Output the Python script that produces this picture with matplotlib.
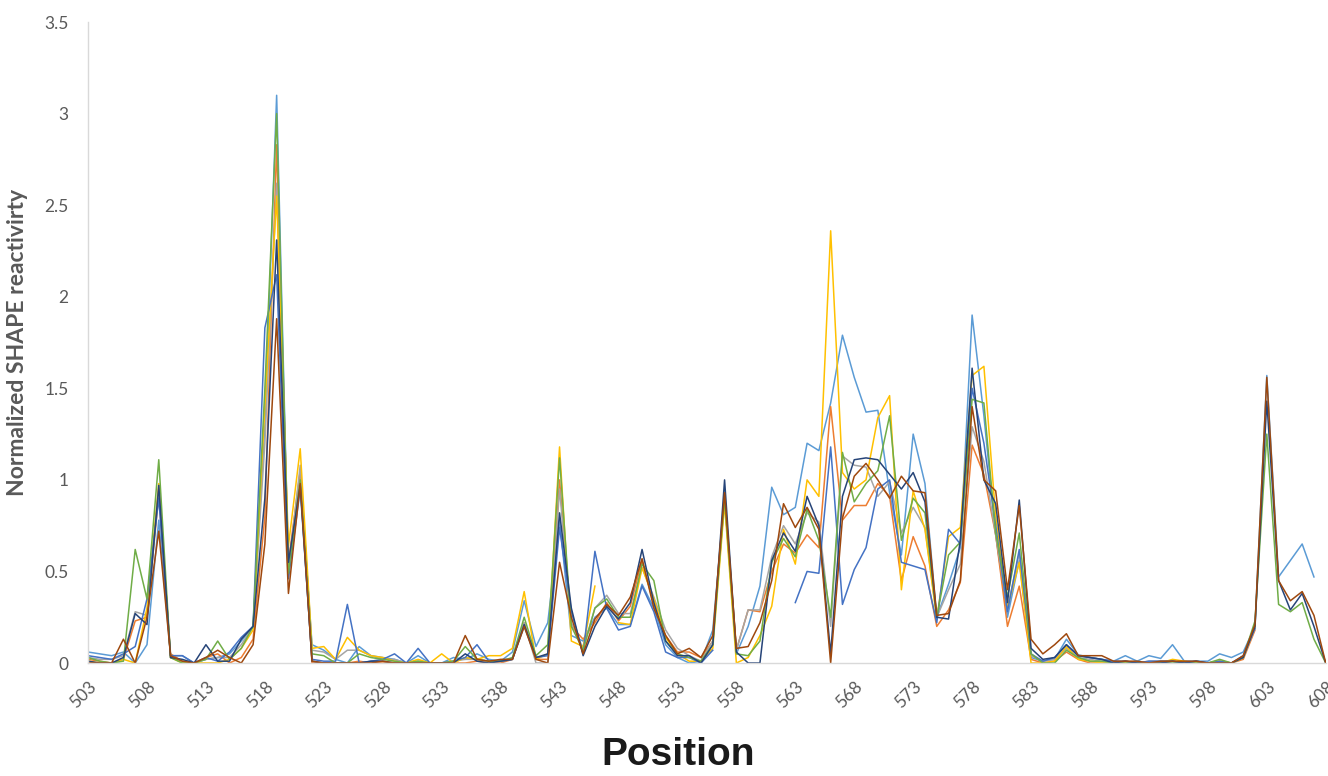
import numpy as np
import matplotlib
matplotlib.use("Agg")
import matplotlib.pyplot as plt

nan = np.nan

# Nucleotide positions
positions = np.arange(503, 609)

# Normalized SHAPE reactivity, one list per replicate (positions 503..608)
lightblue = [0.06, 0.05, 0.04, 0.06, 0.0, 0.1, 0.78, 0.04, 0.04, 0.0,
             0.02, 0.03, 0.05, 0.12, 0.2, 1.3, 3.1, 0.52, 1.03, 0.1,
             0.07, 0.02, 0.0, 0.09, 0.04, 0.03, 0.02, 0.0, 0.04, 0.0,
             0.0, 0.03, 0.02, 0.05, 0.02, 0.01, 0.06, 0.34, 0.09, 0.22,
             0.78, 0.15, 0.12, 0.25, 0.3, 0.21, 0.21, 0.43, 0.3, 0.1,
             0.03, 0.0, 0.01, 0.18, 0.9, 0.05, 0.2, 0.42, 0.96, 0.81,
             0.85, 1.2, 1.16, 1.42, 1.79, 1.56, 1.37, 1.38, 0.93, 0.59,
             1.25, 0.98, 0.25, 0.43, 0.63, 1.9, 1.35, 0.7, 0.25, 0.56,
             0.03, 0.01, 0.02, 0.13, 0.045, 0.03, 0.02, 0.01, 0.04, 0.01,
             0.04, 0.025, 0.1, 0.01, 0.01, 0.01, 0.05, 0.03, 0.06, 0.2,
             1.57, 0.47, 0.56, 0.65, 0.47, nan]
orange = [0.02, 0.01, 0.0, 0.02, 0.23, 0.25, 0.92, 0.05, 0.01, 0.0,
          0.03, 0.05, 0.0, 0.03, 0.13, 0.8, 2.83, 0.55, 1.05, 0.0,
          0.0, 0.0, 0.0, 0.01, 0.0, 0.0, 0.0, 0.0, 0.0, 0.0,
          0.0, 0.0, 0.0, 0.01, 0.0, 0.0, 0.02, 0.22, 0.02, 0.02,
          1.0, 0.2, 0.13, 0.22, 0.33, 0.23, 0.31, 0.56, 0.32, 0.15,
          0.06, 0.06, 0.03, 0.12, 0.92, 0.07, 0.29, 0.28, 0.5, 0.65,
          0.6, 0.7, 0.63, 1.4, 0.78, 0.86, 0.86, 0.98, 0.91, 0.45,
          0.69, 0.53, 0.2, 0.29, 0.44, 1.19, 1.03, 0.7, 0.2, 0.42,
          0.02, 0.0, 0.01, 0.06, 0.02, 0.0, 0.0, 0.0, 0.01, 0.0,
          0.0, 0.0, 0.01, 0.0, 0.0, 0.0, 0.0, 0.0, 0.02, 0.18,
          nan, nan, nan, nan, nan, nan]
gray = [0.03, 0.02, 0.02, 0.04, 0.28, 0.26, 0.95, 0.03, 0.01, 0.0,
        0.02, 0.03, 0.03, 0.1, 0.2, 1.2, 2.62, 0.5, 1.08, 0.07,
        0.06, 0.02, 0.07, 0.07, 0.04, 0.02, 0.02, 0.0, 0.01, 0.0,
        0.0, 0.01, 0.02, 0.02, 0.01, 0.01, 0.02, 0.22, 0.0, 0.0,
        0.95, 0.22, 0.08, 0.3, 0.37, 0.27, 0.27, 0.52, 0.36, 0.18,
        0.08, 0.04, 0.01, 0.12, 0.9, 0.07, 0.29, 0.29, 0.58, 0.75,
        0.65, 0.82, 0.77, 0.2, 1.13, 1.08, 1.07, 0.91, 0.99, 0.71,
        0.85, 0.74, 0.25, 0.4, 0.54, 1.29, 1.1, 0.7, 0.3, 0.6,
        0.04, 0.01, 0.02, 0.08, 0.03, 0.02, 0.01, 0.0, 0.01, 0.0,
        0.01, 0.01, 0.01, 0.0, 0.0, 0.0, 0.01, 0.0, 0.03, 0.19,
        nan, nan, nan, nan, nan, nan]
yellow = [0.01, 0.0, 0.0, 0.02, 0.0, 0.3, 0.98, 0.03, 0.0, 0.0,
          0.0, 0.0, 0.02, 0.08, 0.18, 1.4, 2.55, 0.64, 1.17, 0.08,
          0.09, 0.02, 0.14, 0.07, 0.04, 0.03, 0.01, 0.0, 0.02, 0.0,
          0.05, 0.0, 0.03, 0.02, 0.04, 0.04, 0.08, 0.39, 0.02, 0.05,
          1.18, 0.12, 0.09, 0.42, nan, 0.22, 0.21, 0.52, 0.35, 0.14,
          0.05, 0.01, 0.01, 0.08, 0.87, 0.0, 0.03, 0.15, 0.31, 0.73,
          0.54, 1.0, 0.91, 2.36, 1.04, 0.95, 1.0, 1.34, 1.46, 0.4,
          0.94, 0.73, 0.24, 0.69, 0.74, 1.57, 1.62, 0.8, 0.3, 0.55,
          0.0, 0.0, 0.01, 0.09, 0.02, 0.01, 0.0, 0.0, 0.0, 0.0,
          0.0, 0.0, 0.02, 0.01, 0.0, 0.0, 0.01, 0.0, 0.03, 0.2,
          nan, nan, nan, nan, nan, nan]
blue = [0.04, 0.03, 0.02, 0.05, 0.09, 0.35, 0.9, 0.04, 0.04, 0.0,
        0.03, 0.01, 0.06, 0.14, 0.2, 1.83, 2.12, 0.46, 0.95, 0.02,
        0.01, 0.01, 0.32, 0.0, 0.01, 0.02, 0.05, 0.0, 0.08, 0.0,
        0.0, 0.01, 0.03, 0.1, 0.01, 0.01, 0.02, 0.2, 0.03, 0.04,
        0.74, 0.28, 0.05, 0.61, 0.3, 0.18, 0.2, 0.42, 0.28, 0.06,
        0.03, 0.03, 0.0, 0.07, nan, nan, nan, nan, nan, nan,
        0.33, 0.5, 0.49, 1.18, 0.32, 0.51, 0.63, 0.95, 1.0, 0.55,
        0.53, 0.51, 0.22, 0.73, 0.65, 1.5, 1.2, 0.75, 0.28, 0.62,
        0.05, 0.01, 0.03, 0.1, 0.04, 0.03, 0.02, 0.01, 0.01, 0.0,
        0.01, 0.01, 0.01, 0.0, 0.01, 0.0, 0.01, 0.0, 0.04, 0.19,
        nan, nan, nan, nan, nan, nan]
green = [0.03, 0.01, 0.0, 0.01, 0.62, 0.35, 1.11, 0.03, 0.0, 0.0,
         0.02, 0.12, 0.02, 0.08, 0.2, 1.5, 3.0, 0.49, 1.0, 0.05,
         0.04, 0.0, 0.0, 0.05, 0.03, 0.02, 0.01, 0.0, 0.01, 0.0,
         0.0, 0.01, 0.09, 0.02, 0.01, 0.01, 0.03, 0.25, 0.04, 0.1,
         1.12, 0.2, 0.07, 0.3, 0.35, 0.25, 0.25, 0.54, 0.45, 0.12,
         0.05, 0.03, 0.01, 0.1, 0.9, 0.05, 0.04, 0.12, 0.55, 0.68,
         0.58, 0.84, 0.67, 0.25, 1.15, 0.88, 0.98, 1.05, 1.35, 0.67,
         0.9, 0.82, 0.25, 0.59, 0.66, 1.44, 1.42, 0.71, 0.36, 0.71,
         0.05, 0.0, 0.0, 0.07, 0.03, 0.01, 0.01, 0.0, 0.0, 0.0,
         0.0, 0.0, 0.0, 0.0, 0.0, 0.0, 0.02, 0.0, 0.03, 0.23,
         1.25, 0.32, 0.28, 0.33, 0.13, 0.0]
navy = [0.01, 0.0, 0.0, 0.03, 0.27, 0.21, 0.97, 0.03, 0.02, 0.0,
        0.1, 0.01, 0.01, 0.13, 0.2, 0.9, 2.31, 0.55, 0.97, 0.01,
        0.0, 0.0, 0.0, 0.0, 0.01, 0.01, 0.0, 0.0, 0.0, 0.0,
        0.0, 0.0, 0.05, 0.01, 0.0, 0.01, 0.02, 0.21, 0.03, 0.05,
        0.82, 0.3, 0.04, 0.2, 0.31, 0.24, 0.33, 0.62, 0.33, 0.12,
        0.04, 0.04, 0.0, 0.1, 1.0, 0.06, 0.0, 0.0, 0.56, 0.71,
        0.61, 0.91, 0.75, 0.05, 0.91, 1.11, 1.12, 1.11, 1.03, 0.95,
        1.04, 0.88, 0.25, 0.24, 0.67, 1.61, 1.0, 0.87, 0.33, 0.89,
        0.08, 0.02, 0.03, 0.1, 0.04, 0.03, 0.02, 0.0, 0.01, 0.0,
        0.0, 0.0, 0.01, 0.0, 0.01, 0.0, 0.0, 0.0, 0.03, 0.2,
        1.43, 0.45, 0.29, 0.38, 0.2, 0.0]
brown = [0.0, 0.0, 0.0, 0.13, 0.0, 0.25, 0.72, 0.04, 0.01, 0.0,
         0.03, 0.07, 0.03, 0.0, 0.1, 0.65, 1.88, 0.38, 0.98, 0.01,
         0.0, 0.0, 0.0, 0.0, 0.0, 0.01, 0.0, 0.0, 0.0, 0.0,
         0.0, 0.0, 0.15, 0.02, 0.01, 0.02, 0.02, 0.2, 0.02, 0.0,
         0.55, 0.25, 0.05, 0.24, 0.32, 0.26, 0.36, 0.57, 0.3, 0.15,
         0.05, 0.08, 0.03, 0.15, 0.93, 0.08, 0.09, 0.22, 0.45, 0.87,
         0.74, 0.85, 0.73, 0.0, 0.79, 1.02, 1.09, 1.0, 0.9, 1.02,
         0.94, 0.93, 0.26, 0.27, 0.45, 1.4, 1.0, 0.94, 0.4, 0.86,
         0.13, 0.05, 0.1, 0.16, 0.04, 0.04, 0.04, 0.01, 0.01, 0.01,
         0.0, 0.01, 0.01, 0.01, 0.01, 0.0, 0.0, 0.0, 0.04, 0.21,
         1.56, 0.45, 0.34, 0.39, 0.26, 0.0]

series = [lightblue, orange, gray, yellow, blue, green, navy, brown]
colors = ['#5B9BD5', '#ED7D31', '#A5A5A5', '#FFC000',
          '#4472C4', '#70AD47', '#264478', '#9E480E']

xticks = np.arange(503, 609, 5)
yticks = [0, 0.5, 1, 1.5, 2, 2.5, 3, 3.5]

fig = plt.figure(figsize=(13.28, 7.76), dpi=100)
ax = fig.add_axes([0.0663, 0.1456, 0.932, 0.826])

for vals, c in zip(series, colors):
    ax.plot(positions, vals, color=c, linewidth=1.1)

ax.set_xlim(503, 608)
ax.set_ylim(0, 3.5)
ax.set_xticks(xticks)
ax.set_xticklabels([str(t) for t in xticks], rotation=45, ha='right',
                   rotation_mode='anchor', family='Lato', fontsize=12.5,
                   color='#595959')
ax.set_yticks(yticks)
ax.set_yticklabels(['0', '0.5', '1', '1.5', '2', '2.5', '3', '3.5'],
                   family='Lato', fontsize=12.5, color='#595959')
ax.tick_params(axis='both', length=0)
ax.tick_params(axis='x', pad=11)
ax.tick_params(axis='y', pad=14)

for side in ['top', 'right']:
    ax.spines[side].set_visible(False)
for side in ['left', 'bottom']:
    ax.spines[side].set_color('#D9D9D9')
    ax.spines[side].set_linewidth(1.0)

ax.set_ylabel('Normalized SHAPE reactivirty', family='Lato', fontsize=16.5,
              fontweight='bold', color='#595959', labelpad=12)
fig.text(0.511, 0.014, 'Position', ha='center', va='baseline',
         family='Liberation Sans', fontsize=28, fontweight='bold',
         color='#1a1a1a')

fig.savefig('out.png', dpi=100)
